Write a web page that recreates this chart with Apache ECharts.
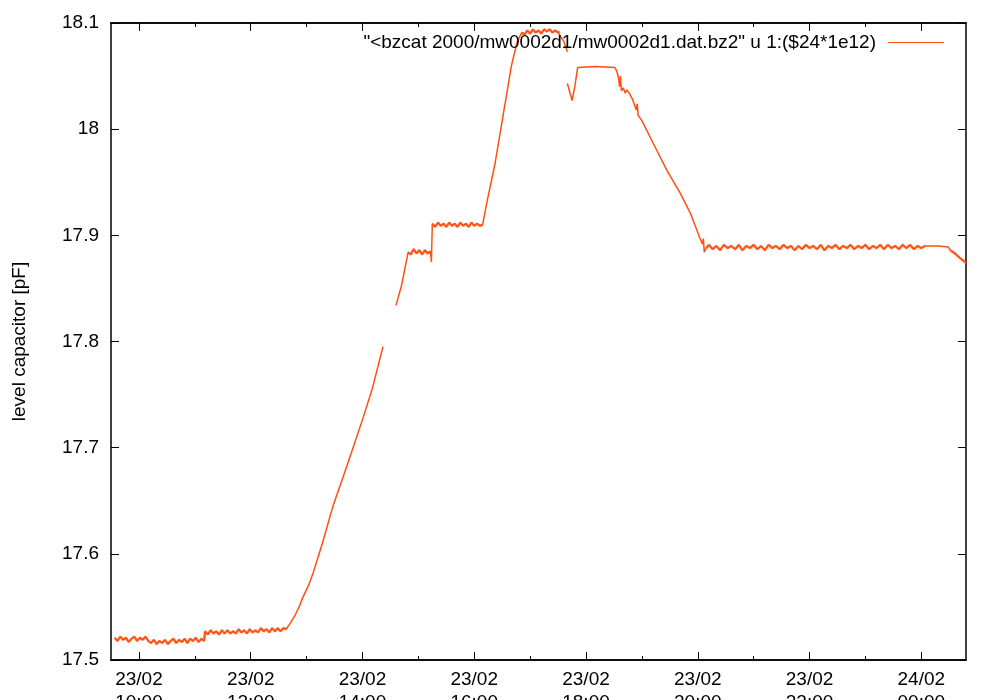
<!DOCTYPE html>
<html>
<head>
<meta charset="utf-8">
<title>level capacitor</title>
<script src="https://cdn.jsdelivr.net/npm/echarts@6/dist/echarts.min.js"></script>
<style>
  html, body { margin: 0; padding: 0; background: #fff; }
  #chart { width: 1000px; height: 700px; }
</style>
</head>
<body>
<div id="chart"></div>
<script>
// readings, [time, capacitance in pF]; times after midnight belong to 24/02
const baseline = [
  ['09:34', 17.521], ['09:37', 17.518], ['09:40', 17.522], ['09:43', 17.519], ['09:46', 17.521],
  ['09:49', 17.517], ['09:52', 17.520], ['09:55', 17.522], ['09:58', 17.518], ['10:01', 17.521],
  ['10:04', 17.519], ['10:07', 17.522], ['10:10', 17.518], ['10:13', 17.516], ['10:16', 17.519],
  ['10:19', 17.515], ['10:22', 17.518], ['10:25', 17.516], ['10:28', 17.519], ['10:31', 17.515],
  ['10:34', 17.518], ['10:37', 17.520], ['10:40', 17.516], ['10:43', 17.519], ['10:46', 17.517],
  ['10:49', 17.520], ['10:52', 17.516], ['10:55', 17.520], ['10:58', 17.518], ['11:01', 17.521],
  ['11:04', 17.517], ['11:07', 17.520], ['11:10', 17.518],
  ['11:11', 17.527], ['11:14', 17.524], ['11:17', 17.528], ['11:20', 17.525], ['11:23', 17.527],
  ['11:26', 17.524], ['11:29', 17.528], ['11:32', 17.525], ['11:35', 17.528], ['11:38', 17.525],
  ['11:41', 17.527], ['11:44', 17.525], ['11:47', 17.529], ['11:50', 17.526], ['11:53', 17.528],
  ['11:56', 17.525], ['11:59', 17.529], ['12:02', 17.526], ['12:05', 17.528], ['12:08', 17.526],
  ['12:11', 17.530], ['12:14', 17.527], ['12:17', 17.529], ['12:20', 17.526], ['12:23', 17.530],
  ['12:26', 17.527], ['12:29', 17.530], ['12:32', 17.527], ['12:35', 17.530], ['12:38', 17.529]
]
const firstRise = [
  ['12:42', 17.534], ['12:47', 17.541], ['12:52', 17.550], ['12:56', 17.559], ['13:02', 17.570],
  ['13:07', 17.582], ['13:17', 17.610], ['13:28', 17.644], ['13:43', 17.682], ['14:01', 17.729],
  ['14:11', 17.757], ['14:22', 17.795]
]
const secondRise = [['14:36', 17.834], ['14:42', 17.853], ['14:49', 17.884]]
const lowerStep = [
  ['14:49', 17.884], ['14:52', 17.882], ['14:55', 17.887], ['14:58', 17.883], ['15:01', 17.886],
  ['15:04', 17.882], ['15:07', 17.886], ['15:10', 17.883], ['15:13', 17.885]
]
const stepJump = [['15:14', 17.875]]
const upperStep = [
  ['15:15', 17.911], ['15:18', 17.908], ['15:21', 17.912], ['15:24', 17.909], ['15:27', 17.911],
  ['15:30', 17.908], ['15:33', 17.912], ['15:36', 17.909], ['15:39', 17.911], ['15:42', 17.908],
  ['15:45', 17.912], ['15:48', 17.909], ['15:51', 17.911], ['15:54', 17.908], ['15:57', 17.912],
  ['16:00', 17.909], ['16:03', 17.911], ['16:06', 17.909], ['16:09', 17.910]
]
const thirdRise = [['16:14', 17.933], ['16:22', 17.966], ['16:31', 18.013], ['16:40', 18.060], ['16:46', 18.082]]
const summit = [
  ['16:51', 18.091], ['16:54', 18.089], ['16:57', 18.093], ['17:00', 18.090], ['17:03', 18.094],
  ['17:06', 18.091], ['17:09', 18.093], ['17:12', 18.090], ['17:15', 18.094], ['17:18', 18.092],
  ['17:21', 18.094], ['17:24', 18.091], ['17:27', 18.093], ['17:30', 18.091], ['17:32', 18.092]
]
const summitDrop = [['17:36', 18.083], ['17:40', 18.073]]
const descent = [
  ['17:40', 18.043], ['17:45', 18.027], ['17:48', 18.040], ['17:51', 18.058], ['18:10', 18.059],
  ['18:31', 18.058], ['18:33', 18.055], ['18:35', 18.048], ['18:36', 18.040], ['18:37', 18.050],
  ['18:38', 18.036], ['18:40', 18.039], ['18:42', 18.034], ['18:44', 18.037], ['18:47', 18.033],
  ['18:50', 18.028], ['18:54', 18.018], ['18:55', 18.024], ['18:56', 18.013], ['19:00', 18.008],
  ['19:12', 17.987], ['19:27', 17.961], ['19:41', 17.940], ['19:52', 17.921], ['20:02', 17.898],
  ['20:05', 17.892], ['20:06', 17.897], ['20:07', 17.884], ['20:09', 17.888]
]
const plateau = [
  ['20:09', 17.888], ['20:12', 17.891], ['20:16', 17.887], ['20:20', 17.890], ['20:24', 17.886],
  ['20:28', 17.891], ['20:32', 17.888], ['20:36', 17.890], ['20:40', 17.887], ['20:44', 17.891],
  ['20:48', 17.886], ['20:52', 17.890], ['20:56', 17.888], ['21:00', 17.891], ['21:04', 17.887],
  ['21:08', 17.890], ['21:12', 17.886], ['21:16', 17.891], ['21:20', 17.888], ['21:24', 17.890],
  ['21:28', 17.887], ['21:32', 17.891], ['21:36', 17.888], ['21:40', 17.890], ['21:44', 17.886],
  ['21:48', 17.890], ['21:52', 17.887], ['21:56', 17.891], ['22:00', 17.888], ['22:04', 17.890],
  ['22:08', 17.887], ['22:12', 17.891], ['22:16', 17.886], ['22:20', 17.890], ['22:24', 17.888],
  ['22:28', 17.891], ['22:32', 17.887], ['22:36', 17.890], ['22:40', 17.888], ['22:44', 17.891],
  ['22:48', 17.887], ['22:52', 17.890], ['22:56', 17.888], ['23:00', 17.891], ['23:04', 17.887],
  ['23:08', 17.890], ['23:12', 17.888], ['23:16', 17.891], ['23:20', 17.887], ['23:24', 17.891],
  ['23:28', 17.888], ['23:32', 17.890], ['23:36', 17.887], ['23:40', 17.891], ['23:44', 17.888],
  ['23:48', 17.891], ['23:52', 17.887], ['23:56', 17.890], ['00:00', 17.888], ['00:04', 17.890]
]
const calmEnd = [['00:06', 17.889], ['00:18', 17.890], ['00:29', 17.889]]
const tail = [
  ['00:31', 17.886], ['00:33', 17.887], ['00:36', 17.883], ['00:38', 17.882], ['00:41', 17.879],
  ['00:44', 17.877], ['00:48', 17.874]
]

const hourTicks = [10, 12, 14, 16, 18, 20, 22, 24]
const minorTicks = [11, 13, 15, 17, 19, 21, 23]
const legendName = '"<bzcat 2000/mw0002d1/mw0002d1.dat.bz2" u 1:($24*1e12)'

function toHours(s) {
  let [h, m] = s.split(':').map(Number)
  if (h < 9) h += 24
  return h + m / 60
}

// join parts in order; null between runs breaks the line
function joinRuns(runs) {
  const out = []
  runs.forEach(function (run, i) {
    if (i > 0) out.push([toHours(run[0][0]) - 0.005, null])
    run.forEach(function (p) { out.push([toHours(p[0]), p[1]]) })
  })
  return out
}

const traceData = joinRuns([
  baseline.concat(firstRise),
  secondRise.concat(lowerStep, stepJump, upperStep, thirdRise, summit, summitDrop),
  descent.concat(plateau, calmEnd, tail)
])
// the noisy stretches read as a wider fuzzy band
const noiseData = joinRuns([baseline, lowerStep, upperStep, summit, plateau, tail])

function pad(n) { return (n < 10 ? '0' : '') + n }
function hourLabel(v) {
  const h = Math.round(v)
  return h >= 24 ? '24/02\n' + pad(h - 24) + ':00' : '23/02\n' + pad(h) + ':00'
}

const font = 'Liberation Sans'
const black = '#000'
const orange = '#ff5010'

function xAxisDef(pos, ticks, len, labels) {
  return {
    type: 'value',
    position: pos,
    min: 9.5,
    max: 24.8,
    axisLine: { show: true, onZero: false, lineStyle: { color: black, width: 1.5 } },
    axisTick: { show: true, inside: true, length: len, customValues: ticks, lineStyle: { color: black, width: 1 } },
    axisLabel: labels
      ? { show: true, customValues: ticks, formatter: hourLabel, color: black, fontFamily: font, fontSize: 19, lineHeight: 23, margin: 8 }
      : { show: false },
    splitLine: { show: false }
  }
}

const chart = echarts.init(document.getElementById('chart'), null, { renderer: 'canvas' })
chart.setOption({
  animation: false,
  backgroundColor: '#fff',
  grid: { left: 111, right: 34, top: 23, bottom: 40, containLabel: false, outerBoundsMode: 'none' },
  legend: {
    right: 56,
    top: 33,
    padding: 0,
    align: 'right',
    icon: 'rect',
    itemWidth: 56,
    itemHeight: 1,
    itemStyle: { color: orange, borderWidth: 0 },
    lineStyle: { color: orange, width: 1 },
    textStyle: { color: black, fontFamily: font, fontSize: 19, padding: [0, 7, 0, 0] },
    data: [{ name: legendName, itemStyle: { color: orange } }]
  },
  xAxis: [
    xAxisDef('bottom', hourTicks, 8, true),
    xAxisDef('bottom', minorTicks, 4, false),
    xAxisDef('top', hourTicks, 8, false),
    xAxisDef('top', minorTicks, 4, false)
  ],
  yAxis: [
    {
      type: 'value',
      position: 'left',
      min: 17.5,
      max: 18.1,
      interval: 0.1,
      name: 'level capacitor [pF]',
      nameLocation: 'middle',
      nameRotate: 90,
      nameGap: 82,
      nameTextStyle: { color: black, fontFamily: font, fontSize: 19 },
      axisLine: { show: true, lineStyle: { color: black, width: 1.5 } },
      axisTick: { show: true, inside: true, length: 8, lineStyle: { color: black } },
      axisLabel: { color: black, fontFamily: font, fontSize: 19, margin: 12 },
      splitLine: { show: false }
    },
    {
      type: 'value',
      position: 'right',
      min: 17.5,
      max: 18.1,
      interval: 0.1,
      axisLine: { show: true, lineStyle: { color: black, width: 1.5 } },
      axisTick: { show: true, inside: true, length: 8, lineStyle: { color: black } },
      axisLabel: { show: false },
      splitLine: { show: false }
    }
  ],
  series: [
    {
      name: 'noise band',
      type: 'line',
      data: noiseData,
      symbol: 'none',
      silent: true,
      lineStyle: { color: orange, width: 2.5, opacity: 0.7 },
      itemStyle: { color: orange }
    },
    {
      name: legendName,
      type: 'line',
      data: traceData,
      symbol: 'none',
      connectNulls: false,
      lineStyle: { color: orange, width: 1.5 },
      itemStyle: { color: orange }
    }
  ]
})
</script>
</body>
</html>
